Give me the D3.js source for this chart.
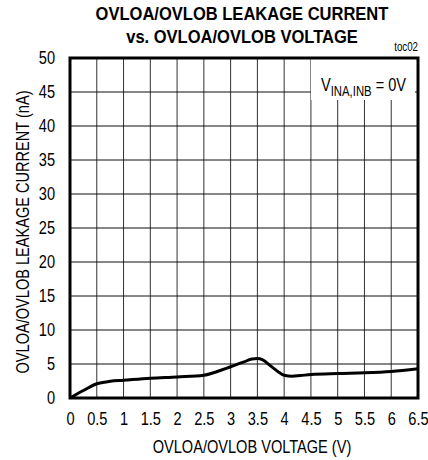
<!DOCTYPE html>
<html><head><meta charset="utf-8">
<script src="https://cdn.jsdelivr.net/npm/d3@7/dist/d3.min.js"></script>
<style>body{margin:0;background:#fff}svg{display:block}text{font-family:"Liberation Sans",Arial,sans-serif}</style>
</head><body>
<script>
const voltage = [0, 0.25, 0.5, 0.75, 1, 1.5, 2, 2.5, 2.75, 3, 3.25, 3.4, 3.5, 3.6, 3.75, 3.9, 4.0, 4.15, 4.3, 4.5, 5, 5.5, 6, 6.5];
const current = [0, 1.1, 2.1, 2.45, 2.6, 2.9, 3.1, 3.35, 3.9, 4.6, 5.3, 5.75, 5.8, 5.6, 4.7, 3.8, 3.35, 3.2, 3.3, 3.45, 3.6, 3.7, 3.9, 4.3];
const xTicks = [0, 0.5, 1, 1.5, 2, 2.5, 3, 3.5, 4, 4.5, 5, 5.5, 6, 6.5];
const yTicks = [0, 5, 10, 15, 20, 25, 30, 35, 40, 45, 50];

const W = 428, H = 460;
const L = 70, R = 418, T = 58, B = 398;
const SX = 0.81; // narrow-font emulation
const svg = d3.select("body").append("svg").attr("width", W).attr("height", H);
const x = d3.scaleLinear().domain([0, 6.5]).range([L, R]);
const y = d3.scaleLinear().domain([0, 50]).range([B, T]);

function ntext(px, py, size, anchor, str, weight, sx) {
  return svg.append("text")
    .attr("transform", `translate(${px},${py}) scale(${sx || SX},1)`)
    .attr("text-anchor", anchor).attr("font-size", size)
    .attr("font-weight", weight || "normal").attr("fill", "#000").text(str);
}

// grid
const g = svg.append("g");
g.selectAll("line.v").data(xTicks.slice(1, -1)).enter().append("line")
  .attr("x1", d => x(d)).attr("x2", d => x(d)).attr("y1", T).attr("y2", B)
  .attr("stroke", "#333").attr("stroke-width", 1);
g.selectAll("line.h").data(yTicks.slice(1, -1)).enter().append("line")
  .attr("x1", L).attr("x2", R).attr("y1", d => y(d)).attr("y2", d => y(d))
  .attr("stroke", "#111").attr("stroke-width", 1);

// legend box (covers grid)
svg.append("rect").attr("x", 311).attr("y", T + 1).attr("width", 104).attr("height", 41).attr("fill", "#fff");
const lt = svg.append("text").attr("transform", `translate(321,91) scale(${SX},1)`).attr("font-size", 18).attr("fill", "#000");
lt.append("tspan").text("V");
lt.append("tspan").attr("dy", 5).attr("font-size", 14).text("INA,INB");
lt.append("tspan").attr("dy", -5).text(" = 0V");

// curve
const line = d3.line().x((d, i) => x(voltage[i])).y(d => y(d)).curve(d3.curveMonotoneX);
svg.append("path").attr("d", line(current)).attr("fill", "none").attr("stroke", "#000").attr("stroke-width", 3).attr("stroke-linejoin", "round");

// frame
svg.append("rect").attr("x", L).attr("y", T).attr("width", R - L).attr("height", B - T)
  .attr("fill", "none").attr("stroke", "#000").attr("stroke-width", 3);

// axes
const xAxis = d3.axisBottom(x).tickValues(xTicks).tickSize(0).tickPadding(14).tickFormat(d => d3.format("")(d));
const xa = svg.append("g").attr("transform", `translate(0,${B})`).call(xAxis);
xa.select(".domain").remove();
xa.selectAll("text").attr("font-size", 18).attr("font-family", null).attr("fill", "#000")
  .attr("transform", `scale(${SX},1)`);

const yAxis = d3.axisLeft(y).tickValues(yTicks).tickSize(0).tickPadding(15);
const ya = svg.append("g").attr("transform", `translate(${L},0)`).call(yAxis);
ya.select(".domain").remove();
ya.selectAll("text").attr("font-size", 18).attr("font-family", null).attr("fill", "#000")
  .attr("x", -15 / SX).attr("transform", `scale(${SX},1)`);

// titles
ntext(242, 20, 19, "middle", "OVLOA/OVLOB LEAKAGE CURRENT", "bold", 0.87);
ntext(242, 43, 19, "middle", "vs. OVLOA/OVLOB VOLTAGE", "bold", 0.87);
ntext(418, 51, 12, "end", "toc02");
ntext(252, 453, 18, "middle", "OVLOA/OVLOB VOLTAGE (V)");
svg.append("text").attr("transform", `translate(29,232) rotate(-90) scale(${SX},1)`)
  .attr("text-anchor", "middle").attr("font-size", 18).attr("fill", "#000").text("OVLOA/OVLOB LEAKAGE CURRENT (nA)");
</script>
</body></html>
